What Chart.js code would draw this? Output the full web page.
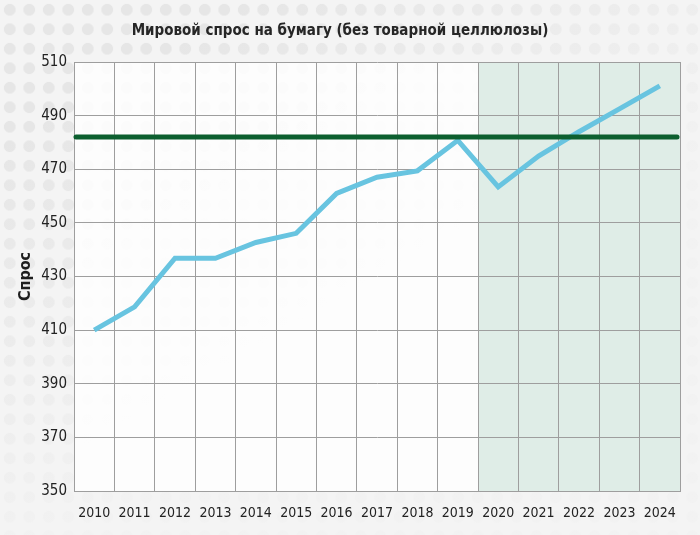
<!DOCTYPE html>
<html lang="ru">
<head>
<meta charset="utf-8">
<title>Мировой спрос на бумагу</title>
<script src="https://cdn.jsdelivr.net/npm/chart.js@4.4.1/dist/chart.umd.min.js"></script>
<style>
    html, body {
        margin: 0;
        padding: 0;
    }
    body {
        width: 700px;
        height: 535px;
        overflow: hidden;
        background:
            linear-gradient(150deg, rgba(244,244,244,0) 15%, rgba(244,244,244,0.85) 60%),
            radial-gradient(circle, #e6e6e6 5.5px, rgba(230,230,230,0) 6.2px) 0 0 / 19.5px 19.5px,
            #f4f4f4;
    }
    #wrap {
        position: relative;
        width: 700px;
        height: 535px;
    }
</style>
</head>
<body>
<div id="wrap"><canvas id="demandChart"></canvas></div>
<script>
const years = ['2010', '2011', '2012', '2013', '2014', '2015', '2016', '2017',
    '2018', '2019', '2020', '2021', '2022', '2023', '2024'];
const demand = [410, 418.7, 436.8, 436.8, 442.7, 446.1, 461, 467, 469.4,
    480.8, 463.4, 474.9, 484, 492.5, 501.1];
const capacityLevel = 482;
const forecastFrom = '2020';
const yMin = 350;
const yMax = 510;
const yStep = 20;

const tickFont = { family: "'Liberation Sans Narrow', 'DejaVu Sans Condensed', sans-serif", size: 15 };

// white plot field + forecast band behind the grid
const backdrop = {
    id: 'backdrop',
    beforeDraw(chart) {
        const { ctx, chartArea: a, scales: { x } } = chart;
        const i = years.indexOf(forecastFrom);
        const start = (x.getPixelForValue(i - 1) + x.getPixelForValue(i)) / 2;
        ctx.save();
        ctx.fillStyle = 'rgba(255,255,255,0.82)';
        ctx.fillRect(a.left, a.top, a.right - a.left, a.bottom - a.top);
        ctx.fillStyle = '#dfede7';
        ctx.fillRect(start, a.top, a.right - start, a.bottom - a.top);
        ctx.restore();
    }
};

// horizontal capacity line across the whole plot
const levelLine = {
    id: 'levelLine',
    afterDatasetsDraw(chart) {
        const { ctx, chartArea: a, scales: { y } } = chart;
        const py = y.getPixelForValue(capacityLevel);
        ctx.save();
        ctx.strokeStyle = '#0c5f2f';
        ctx.lineWidth = 5;
        ctx.lineCap = 'round';
        ctx.beginPath();
        ctx.moveTo(a.left + 2, py);
        ctx.lineTo(a.right - 3, py);
        ctx.stroke();
        ctx.restore();
    }
};

new Chart(document.getElementById('demandChart'), {
    type: 'line',
    data: {
        labels: years,
        datasets: [{
            label: 'Спрос',
            data: demand,
            borderColor: '#68c4e0',
            borderWidth: 5,
            pointRadius: 0,
            tension: 0,
            borderJoinStyle: 'miter'
        }]
    },
    options: {
        responsive: true,
        maintainAspectRatio: false,
        animation: false,
        layout: { padding: { left: 0, right: 20, top: 0, bottom: 0 } },
        plugins: {
            legend: { display: false },
            tooltip: { enabled: false },
            title: {
                display: true,
                text: 'Мировой спрос на бумагу (без товарной целлюлозы)',
                color: '#262626',
                font: { family: tickFont.family, size: 15, weight: 'bold' },
                padding: { top: 22, bottom: 22 }
            }
        },
        scales: {
            x: {
                offset: true,
                grid: { offset: true, color: '#9e9e9e', lineWidth: 1, drawTicks: false },
                border: { color: '#9e9e9e' },
                ticks: { color: '#222', font: { family: tickFont.family, size: 14 }, padding: 14, maxRotation: 0 },
                afterFit(scale) { scale.height = 44; }
            },
            y: {
                min: yMin,
                max: yMax,
                grid: { color: '#9e9e9e', lineWidth: 1, drawTicks: false },
                border: { color: '#9e9e9e' },
                ticks: { stepSize: yStep, color: '#222', font: tickFont, padding: 7 },
                title: {
                    display: true,
                    text: 'Спрос',
                    color: '#1e1e1e',
                    font: { family: tickFont.family, size: 16, weight: 'bold' },
                    padding: { top: 16, bottom: 0 }
                },
                afterFit(scale) { scale.width = 74; }
            }
        }
    },
    plugins: [backdrop, levelLine]
});
</script>
</body>
</html>
